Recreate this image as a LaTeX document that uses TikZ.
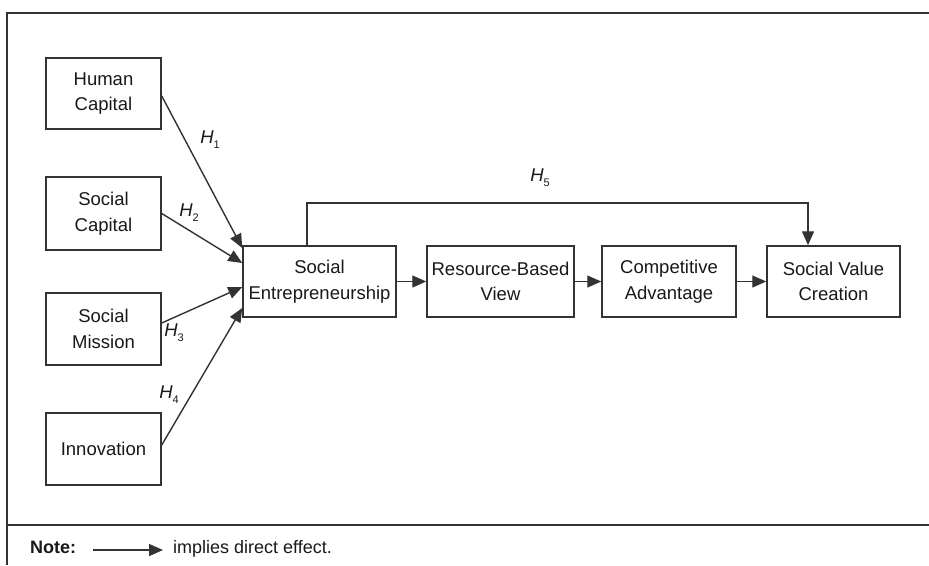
\documentclass[tikz,border=0pt]{standalone}
\usepackage{fontspec}
\setmainfont{Liberation Sans}
\usetikzlibrary{arrows.meta}
\definecolor{lc}{gray}{0.2}
\tikzset{
  x=1pt, y=-1pt,
  box/.style={draw=lc, line width=1.5pt, align=center, inner sep=0pt,
    font=\fontsize{18.5}{25.5}\selectfont, text=black!90},
  arr/.style={draw=lc, line width=1.4pt, -{Triangle[length=14pt,width=12pt]}},
  hlab/.style={font=\fontsize{18.5}{22}\selectfont, text=black!90, inner sep=0pt},
  frame/.style={draw=lc, line width=1.8pt}
}
\newcommand{\hyp}[1]{\textit{H}\raisebox{-5pt}{\fontsize{11}{11}\selectfont #1}}
\begin{document}
\begin{tikzpicture}
\useasboundingbox (0,0) rectangle (929,565);
\fill[white] (0,0) rectangle (929,565);
% frame
\draw[frame] (7,565) -- (7,13) -- (929,13);
\draw[frame] (7,525) -- (929,525);
% nodes
\node[box, minimum width=115pt, minimum height=71pt] (hc) at (103.5,93.5) {Human\\Capital};
\node[box, minimum width=115pt, minimum height=73pt] (sc) at (103.5,213.5) {Social\\Capital};
\node[box, minimum width=115pt, minimum height=72pt] (sm) at (103.5,329) {Social\\Mission};
\node[box, minimum width=115pt, minimum height=72pt] (in) at (103.5,449) {Innovation};
\node[box, minimum width=153pt, minimum height=71pt] (se) at (319.5,281.5) {Social\\Entrepreneurship};
\node[box, minimum width=147pt, minimum height=71pt] (rbv) at (500.5,281.5) {Resource-Based\\View};
\node[box, minimum width=134pt, minimum height=71pt] (ca) at (669,281.5) {Competitive\\Advantage};
\node[box, minimum width=133pt, minimum height=71pt] (svc) at (833.5,281.5) {Social Value\\Creation};
% arrows into SE
\draw[arr] ([yshift=-2.5pt]hc.east) -- ([yshift=33.5pt]se.west);
\draw[arr] (sc.east) -- ([yshift=18.5pt]se.west);
\draw[arr] ([yshift=6pt]sm.east) -- ([yshift=-5.5pt]se.west);
\draw[arr] ([yshift=4pt]in.east) -- ([yshift=-26.5pt]se.west);
% chain
\draw[arr] (se.east) -- (rbv.west);
\draw[arr] (rbv.east) -- (ca.west);
\draw[arr] (ca.east) -- (svc.west);
% H5
\coordinate (h5a) at ([xshift=-12.5pt]se.north |- 0,203);
\coordinate (h5b) at ([xshift=-25.5pt]svc.north |- 0,203);
\draw[arr] ([xshift=-12.5pt]se.north) -- (h5a) -- (h5b) -- ([xshift=-25.5pt]svc.north);
% labels
\node[hlab] (l1) at (210,140) {\hyp{1}};
\node[hlab] (l2) at (189,213) {\hyp{2}};
\node[hlab] (l3) at (174,333) {\hyp{3}};
\node[hlab] (l4) at (169,395) {\hyp{4}};
\node[hlab] (l5) at (540,178) {\hyp{5}};
% note
\node[hlab, anchor=base west, font=\fontsize{18}{22}\selectfont\bfseries] (note) at (30,553) {Note:};
\coordinate (na) at (93,550);
\coordinate (nb) at (163,550);
\draw[arr] (na) -- (nb);
\node[hlab, anchor=base west, font=\fontsize{18}{22}\selectfont] (ntext) at (173,553) {implies direct effect.};
\end{tikzpicture}
\end{document}
